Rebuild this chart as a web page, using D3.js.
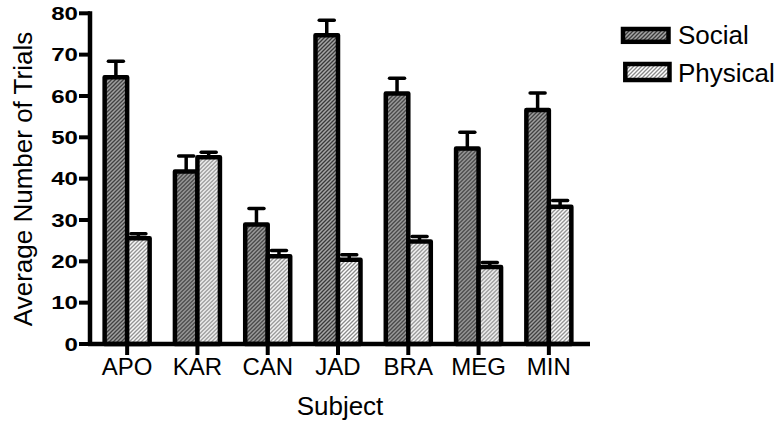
<!DOCTYPE html>
<html>
<head>
<meta charset="utf-8">
<script src="https://cdn.jsdelivr.net/npm/d3@7"></script>
<style>
  html, body { margin: 0; padding: 0; background: #fff; }
  svg { display: block; font-family: Arial, "Liberation Sans", sans-serif; }
</style>
</head>
<body>
<svg id="chart" width="783" height="423"></svg>
<script>
const categories = ["APO", "KAR", "CAN", "JAD", "BRA", "MEG", "MIN"];
const series = ["Social", "Physical"];
const socialValues = [64.5, 41.7, 28.9, 74.7, 60.6, 47.3, 56.6];
const socialErrors = [3.9, 3.8, 3.9, 3.6, 3.7, 3.9, 4.1];
const physicalValues = [25.6, 45.2, 21.2, 20.4, 24.8, 18.6, 33.2];
const physicalErrors = [1.1, 1.2, 1.4, 1.2, 1.2, 1.1, 1.5];
const yTicks = [0, 10, 20, 30, 40, 50, 60, 70, 80];
const yTitle = "Average Number of Trials";
const xTitle = "Subject";

const svg = d3.select("#chart");
const defs = svg.append("defs");

function hatch(id, bg, line) {
  const p = defs.append("pattern").attr("id", id)
    .attr("patternUnits", "userSpaceOnUse").attr("width", 4).attr("height", 4);
  p.append("rect").attr("width", 4).attr("height", 4).attr("fill", bg);
  p.append("path").attr("d", "M-1,1 l2,-2 M0,4 l4,-4 M3,5 l2,-2")
    .attr("stroke", line).attr("stroke-width", 1.3);
}
hatch("hatchSocial", "#a6a6a6", "#3a3a3a");
hatch("hatchPhysical", "#ffffff", "#8a8a8a");
const fills = { Social: "url(#hatchSocial)", Physical: "url(#hatchPhysical)" };

const x = d3.scaleBand().domain(categories).range([92, 584]).padding(0);
const x1 = d3.scaleBand().domain(series).range([-22.5, 22.5]).padding(0);
const y = d3.scaleLinear().domain([0, 80]).range([344, 13.3]);

const rows = categories.map((c, i) => ({
  cat: c,
  bars: [
    { s: "Social", v: socialValues[i], e: socialErrors[i] },
    { s: "Physical", v: physicalValues[i], e: physicalErrors[i] }
  ]
}));

const groups = svg.append("g").selectAll("g").data(rows).join("g")
  .attr("transform", d => `translate(${x(d.cat) + x.bandwidth() / 2},0)`);

// error bars (upper only)
groups.selectAll("g.err").data(d => d.bars).join("g").attr("class", "err")
  .each(function (d) {
    const g = d3.select(this);
    const cx = x1(d.s) + x1.bandwidth() / 2;
    g.append("line").attr("x1", cx).attr("x2", cx)
      .attr("y1", y(d.v)).attr("y2", y(d.v + d.e))
      .attr("stroke", "#000").attr("stroke-width", 3.5);
    g.append("line").attr("x1", cx - 7.5).attr("x2", cx + 7.5)
      .attr("y1", y(d.v + d.e)).attr("y2", y(d.v + d.e))
      .attr("stroke", "#000").attr("stroke-width", 3.5).attr("stroke-linecap", "round");
  });

groups.selectAll("rect.bar").data(d => d.bars).join("rect").attr("class", "bar")
  .attr("x", d => x1(d.s))
  .attr("width", x1.bandwidth())
  .attr("y", d => y(d.v))
  .attr("height", d => y(0) - y(d.v))
  .attr("fill", d => fills[d.s])
  .attr("stroke", "#000").attr("stroke-width", 4.5)
  .attr("stroke-linejoin", "round");

// y axis
const yAxis = svg.append("g");
yAxis.append("line").attr("x1", 90).attr("x2", 90).attr("y1", y(80) - 2).attr("y2", y(0) + 2)
  .attr("stroke", "#000").attr("stroke-width", 4.5);
yAxis.selectAll("line.tick").data(yTicks).join("line").attr("class", "tick")
  .attr("x1", 79).attr("x2", 90).attr("y1", d => y(d)).attr("y2", d => y(d))
  .attr("stroke", "#000").attr("stroke-width", 4);
yAxis.selectAll("text").data(yTicks).join("text")
  .attr("transform", d => `translate(78,${y(d) + 6.6}) scale(1.3,1)`)
  .attr("text-anchor", "end").attr("font-weight", "bold").attr("font-size", 18.5)
  .text(d => d);

// x axis
const xAxis = svg.append("g");
xAxis.append("line").attr("x1", 88).attr("x2", 590).attr("y1", y(0)).attr("y2", y(0))
  .attr("stroke", "#000").attr("stroke-width", 4.5);
xAxis.selectAll("line.tick").data(categories).join("line").attr("class", "tick")
  .attr("x1", d => x(d) + x.bandwidth() / 2).attr("x2", d => x(d) + x.bandwidth() / 2)
  .attr("y1", y(0)).attr("y2", 355)
  .attr("stroke", "#000").attr("stroke-width", 4);
xAxis.selectAll("text").data(categories).join("text")
  .attr("x", d => x(d) + x.bandwidth() / 2).attr("y", 375)
  .attr("text-anchor", "middle").attr("font-size", 24)
  .text(d => d);

// titles
svg.append("text").attr("transform", "translate(32,179) rotate(-90)")
  .attr("text-anchor", "middle").attr("font-size", 26).text(yTitle);
svg.append("text").attr("x", 340).attr("y", 415)
  .attr("text-anchor", "middle").attr("font-size", 26).text(xTitle);

// legend
const legendBoxes = [
  { x: 623, y: 29, w: 45.5, h: 12.8 },
  { x: 625.3, y: 64, w: 44.2, h: 16 }
];
const legendBaselines = [44, 82];
const legend = svg.append("g").selectAll("g").data(series).join("g");
legend.append("rect")
  .attr("x", (d, i) => legendBoxes[i].x).attr("y", (d, i) => legendBoxes[i].y)
  .attr("width", (d, i) => legendBoxes[i].w).attr("height", (d, i) => legendBoxes[i].h)
  .attr("fill", d => fills[d]).attr("stroke", "#000").attr("stroke-width", 4.5);
legend.append("text").attr("x", 678).attr("y", (d, i) => legendBaselines[i])
  .attr("font-size", 26).text(d => d);
</script>
</body>
</html>
